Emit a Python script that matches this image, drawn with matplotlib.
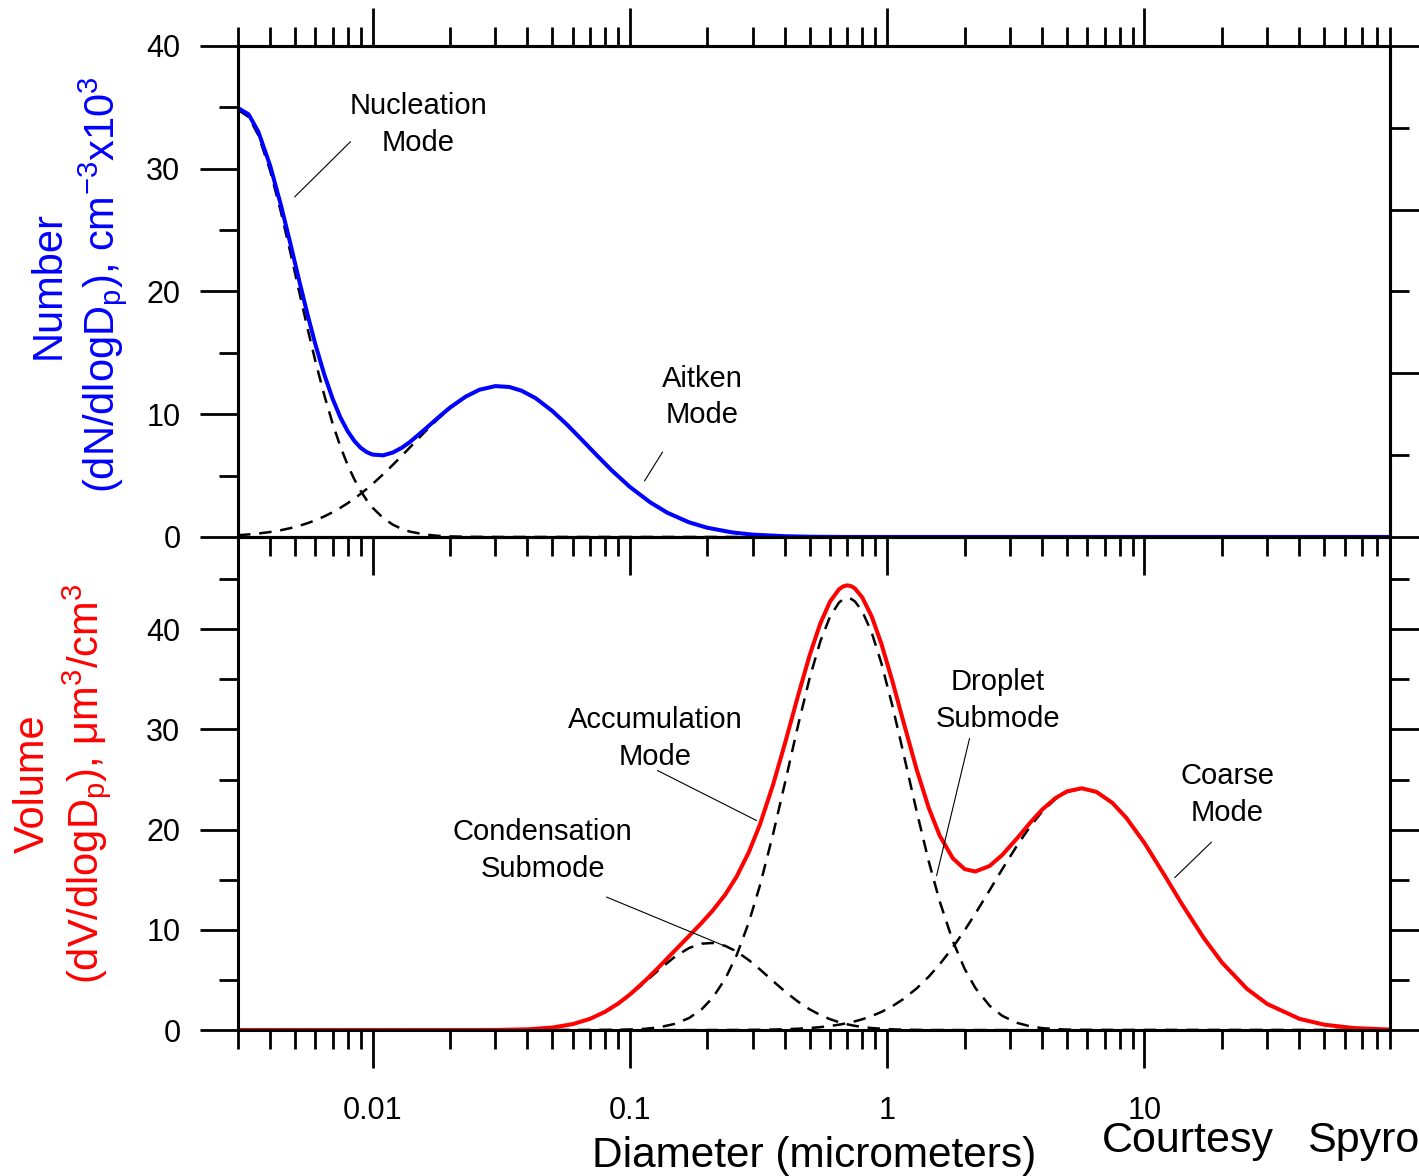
import numpy as np
import matplotlib
matplotlib.use('Agg')
import matplotlib.pyplot as plt
from matplotlib.ticker import MultipleLocator, FixedLocator, LogLocator, NullFormatter

###
### Data
###
# number distribution, top panel
diam_num = [0.003, 0.0033, 0.0036, 0.004, 0.0044, 0.0048, 0.0052, 0.0056, 0.006, 0.0065,
            0.007, 0.0075, 0.008, 0.0085, 0.009, 0.0095, 0.01, 0.011, 0.012, 0.013,
            0.014, 0.016, 0.018, 0.02, 0.023, 0.026, 0.03, 0.034, 0.038, 0.043,
            0.05, 0.057, 0.065, 0.075, 0.085, 0.1, 0.12, 0.14, 0.17, 0.2,
            0.25, 0.3, 0.4, 0.5, 0.7, 1, 2, 5, 10, 20, 50, 90]
nucleation = [34.8, 34.22, 32.73, 29.86, 26.53, 23.14, 19.89, 16.93, 14.31, 11.53,
              9.23, 7.37, 5.88, 4.69, 3.74, 2.99, 2.39, 1.54, 1.00, 0.65,
              0.43, 0.20, 0.09, 0.045, 0.016, 0.006, 0, 0, 0, 0,
              0, 0, 0, 0, 0, 0, 0, 0, 0, 0,
              0, 0, 0, 0, 0, 0, 0, 0, 0, 0, 0, 0]
aitken = [0.145, 0.206, 0.281, 0.403, 0.550, 0.720, 0.914, 1.128, 1.362, 1.678,
          2.016, 2.374, 2.745, 3.129, 3.520, 3.916, 4.315, 5.106, 5.878, 6.617,
          7.319, 8.578, 9.635, 10.49, 11.41, 11.98, 12.29, 12.22, 11.91, 11.31,
          10.26, 9.15, 7.93, 6.58, 5.43, 4.08, 2.82, 1.97, 1.19, 0.746,
          0.365, 0.192, 0.062, 0.024, 0.002, 0, 0, 0, 0, 0, 0, 0]
number_total = [34.95, 34.43, 33.01, 30.26, 27.08, 23.86, 20.80, 18.06, 15.67, 13.21,
                11.25, 9.74, 8.63, 7.82, 7.26, 6.91, 6.71, 6.65, 6.88, 7.27,
                7.75, 8.78, 9.73, 10.54, 11.43, 11.99, 12.29, 12.22, 11.91, 11.31,
                10.26, 9.15, 7.93, 6.58, 5.43, 4.08, 2.82, 1.97, 1.19, 0.75,
                0.37, 0.19, 0.06, 0.02, 0, 0, 0, 0, 0, 0, 0, 0]

# volume distribution, bottom panel
diam_vol = [0.003, 0.005, 0.01, 0.02, 0.03, 0.04, 0.05, 0.06, 0.07, 0.08,
            0.09, 0.1, 0.115, 0.13, 0.15, 0.17, 0.19, 0.21, 0.235, 0.26,
            0.29, 0.32, 0.36, 0.4, 0.45, 0.5, 0.55, 0.6, 0.65, 0.675,
            0.7, 0.725, 0.75, 0.8, 0.87, 0.95, 1.05, 1.15, 1.3, 1.45,
            1.6, 1.8, 2.0, 2.2, 2.5, 2.8, 3.2, 3.6, 4.0, 4.5,
            5.0, 5.7, 6.5, 7.5, 8.5, 10, 12, 14, 17, 20,
            25, 30, 40, 50, 65, 90]
condensation = [0, 0, 0, 0, 0.01, 0.074, 0.251, 0.592, 1.116, 1.804,
                2.614, 3.491, 4.821, 6.037, 7.338, 8.192, 8.620, 8.688, 8.397, 7.835,
                6.977, 6.061, 4.89, 3.868, 2.841, 2.066, 1.497, 1.084, 0.787, 0.671,
                0.573, 0.49, 0.418, 0.308, 0.202, 0.126, 0.071, 0.041, 0.019, 0.008,
                0.003, 0.001, 0, 0, 0, 0, 0, 0, 0, 0,
                0, 0, 0, 0, 0, 0, 0, 0, 0, 0,
                0, 0, 0, 0, 0, 0]
droplet = [0, 0, 0, 0, 0, 0, 0, 0.001, 0.003, 0.010,
           0.024, 0.050, 0.128, 0.274, 0.623, 1.205, 2.068, 3.234, 5.129, 7.462,
           10.75, 14.39, 19.52, 24.58, 30.35, 35.15, 38.79, 41.27, 42.66, 42.99,
           43.1, 43.02, 42.76, 41.79, 39.69, 36.59, 32.26, 27.89, 21.89, 16.85,
           12.84, 8.87, 6.11, 4.21, 2.43, 1.42, 0.714, 0.368, 0.195, 0.092,
           0.045, 0.017, 0.006, 0, 0, 0, 0, 0, 0, 0,
           0, 0, 0, 0, 0, 0]
coarse = [0, 0, 0, 0, 0, 0, 0, 0, 0, 0,
          0, 0, 0, 0, 0.001, 0.001, 0.002, 0.004, 0.007, 0.011,
          0.019, 0.030, 0.051, 0.081, 0.133, 0.203, 0.293, 0.404, 0.537, 0.613,
          0.694, 0.781, 0.873, 1.075, 1.393, 1.81, 2.398, 3.054, 4.138, 5.32,
          6.56, 8.26, 9.95, 11.61, 13.94, 16.05, 18.43, 20.34, 21.79, 23.04,
          23.77, 24.1, 23.76, 22.67, 21.17, 18.66, 15.39, 12.54, 9.18, 6.74,
          4.12, 2.60, 1.12, 0.534, 0.201, 0.051]
volume_total = [0, 0, 0, 0, 0.01, 0.074, 0.251, 0.593, 1.119, 1.814,
                2.638, 3.541, 4.949, 6.311, 7.962, 9.398, 10.69, 11.93, 13.53, 15.31,
                17.75, 20.48, 24.46, 28.53, 33.32, 37.42, 40.58, 42.76, 43.98, 44.27,
                44.37, 44.29, 44.05, 43.17, 41.29, 38.53, 34.73, 30.99, 26.05, 22.18,
                19.40, 17.13, 16.06, 15.82, 16.37, 17.47, 19.14, 20.71, 21.99, 23.13,
                23.82, 24.12, 23.77, 22.67, 21.17, 18.66, 15.39, 12.54, 9.18, 6.74,
                4.12, 2.60, 1.12, 0.534, 0.201, 0.051]

xtick_vals = [0.01, 0.1, 1, 10]
xtick_labels = ['0.01', '0.1', '1', '10']

###
### Style
###
plt.rcParams['font.family'] = ['Liberation Sans', 'DejaVu Sans']
plt.rcParams['mathtext.default'] = 'regular'

dash = (0, (5, 3.5))
lw_dash = 1.8
lw_main = 2.9
lw_spine = 2.2
tick_major = 27.4
tick_minor = 13.7
tick_w = 2.0
fs_tick = 22
fs_note = 21
ls_note = 1.38

fig = plt.figure(figsize=(14.19, 11.76), dpi=100)
ax1 = fig.add_axes([0.1677, 0.5434, 0.8119, 0.4175])
ax2 = fig.add_axes([0.1677, 0.1241, 0.8119, 0.4193])
ax2.patch.set_visible(False)

for ax in (ax1, ax2):
    ax.set_xscale('log')
    ax.set_xlim(0.003, 90)
    ax.xaxis.set_major_locator(FixedLocator(xtick_vals))
    ax.xaxis.set_minor_locator(LogLocator(base=10, subs=np.arange(2, 10), numticks=30))
    ax.xaxis.set_minor_formatter(NullFormatter())
    ax.yaxis.set_major_locator(MultipleLocator(10))
    ax.yaxis.set_minor_locator(MultipleLocator(5))
    for sp in ax.spines.values():
        sp.set_linewidth(lw_spine)
    ax.tick_params(which='both', direction='out', width=tick_w, labelsize=fs_tick)
    ax.tick_params(which='major', length=tick_major)
    ax.tick_params(which='minor', length=tick_minor)
    ax.tick_params(axis='y', pad=14)

###
### Top panel: number
###
ax1.plot(diam_num, nucleation, color='black', lw=lw_dash, ls=dash)
ax1.plot(diam_num, aitken, color='black', lw=lw_dash, ls=dash)
ax1.plot(diam_num, number_total, color='blue', lw=lw_main, solid_capstyle='butt')
ax1.set_ylim(0, 40)
ax1.tick_params(axis='x', which='both', top=True, bottom=True,
                labelbottom=False, labeltop=False)

ax1r = ax1.twinx()
ax1r.set_ylim(0, 6)
ax1r.yaxis.set_major_locator(FixedLocator([0, 2, 4, 6]))
ax1r.yaxis.set_minor_locator(FixedLocator([1, 3, 5]))
ax1r.tick_params(which='both', direction='out', width=tick_w, labelright=False)
ax1r.tick_params(which='major', length=tick_major)
ax1r.tick_params(which='minor', length=tick_minor)
for sp in ax1r.spines.values():
    sp.set_linewidth(lw_spine)

ax1.text(0.0151, 33.6, 'Nucleation\nMode', fontsize=fs_note, ha='center', va='center',
         linespacing=ls_note)
ax1.annotate('', xy=(0.00498, 27.7), xytext=(0.00821, 32.2),
             arrowprops=dict(arrowstyle='-', lw=0.8, shrinkA=0, shrinkB=0))
ax1.text(0.1917, 11.4, 'Aitken\nMode', fontsize=fs_note, ha='center', va='center',
         linespacing=ls_note)
ax1.annotate('', xy=(0.114, 4.56), xytext=(0.134, 6.92),
             arrowprops=dict(arrowstyle='-', lw=0.8, shrinkA=0, shrinkB=0))

###
### Bottom panel: volume
###
ax2.plot(diam_vol, condensation, color='black', lw=lw_dash, ls=dash)
ax2.plot(diam_vol, droplet, color='black', lw=lw_dash, ls=dash)
ax2.plot(diam_vol, coarse, color='black', lw=lw_dash, ls=dash)
ax2.plot(diam_vol, volume_total, color='red', lw=lw_main, solid_capstyle='butt')
ax2.set_ylim(0, 49.2)
ax2.tick_params(axis='x', which='both', top=False, bottom=True, pad=20)
ax2.tick_params(axis='y', which='both', left=True, right=True)
ax2.set_xticklabels(xtick_labels)

notes = [
    ('Accumulation\nMode', (0.1259, 29.1), (0.128, 25.9), (0.311, 20.9)),
    ('Droplet\nSubmode', (2.685, 32.9), (2.09, 29.1), (1.556, 15.4)),
    ('Coarse\nMode', (21.0, 23.5), (18.2, 18.75), (13.1, 15.2)),
    ('Condensation\nSubmode', (0.0458, 17.9), (0.0812, 13.27), (0.2553, 7.98)),
]
for label, pos, p1, p2 in notes:
    ax2.text(pos[0], pos[1], label, fontsize=fs_note, ha='center', va='center',
             linespacing=ls_note)
    ax2.annotate('', xy=p2, xytext=p1,
                 arrowprops=dict(arrowstyle='-', lw=0.8, shrinkA=0, shrinkB=0))

###
### Axis titles and credit
###
fig.text(79 / 1419, 1 - 285 / 1176,
         'Number\n(dN/dlogD$_p$), cm$^{-3}$x10$^3$',
         color='blue', fontsize=30, rotation=90, ha='center', va='center',
         multialignment='center', linespacing=1.2)
fig.text(63 / 1419, 1 - 784 / 1176,
         'Volume\n(dV/dlogD$_p$), \u03bcm$^3$/cm$^3$',
         color='red', fontsize=30, rotation=90, ha='center', va='center',
         multialignment='center', linespacing=1.2)
fig.text(814 / 1419, 1 - 1167 / 1176, 'Diameter (micrometers)',
         fontsize=30.5, ha='center', va='baseline')
fig.text(1102 / 1419, 1 - 1152 / 1176, 'Courtesy', fontsize=31, ha='left', va='baseline')
fig.text(1307 / 1419, 1 - 1152 / 1176, 'Spyros', fontsize=31, ha='left', va='baseline')

fig.savefig('out.png', dpi=100)
